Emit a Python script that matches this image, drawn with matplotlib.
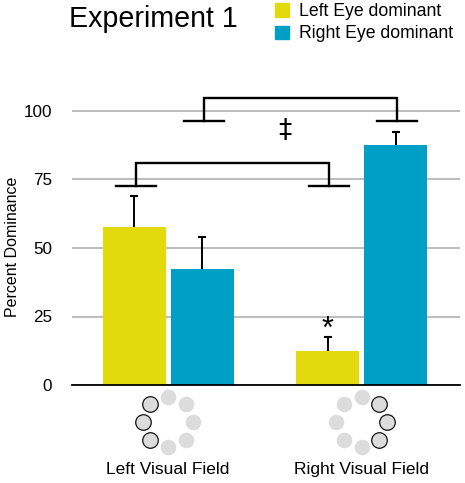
import numpy as np
import matplotlib
matplotlib.use("Agg")
import matplotlib.pyplot as plt
from matplotlib.patches import Patch

plt.rcParams['font.family'] = ['Liberation Sans', 'DejaVu Sans']

fields = ["Left Visual Field", "Right Visual Field"]
series = ["Left Eye dominant", "Right Eye dominant"]
left_eye = [57.5, 12.5]
right_eye = [42.5, 87.5]
left_err = [11.5, 5.0]
right_err = [11.5, 5.0]
y_ticks = [0, 25, 50, 75, 100]
YELLOW = "#e2da0c"
BLUE = "#00a0c6"

W, H = 465, 483
fig = plt.figure(figsize=(W / 100, H / 100), dpi=100)
ax_l, ax_r, ax_b, ax_t = 72, 460, 385, 84
ax = fig.add_axes([ax_l / W, 1 - ax_b / H, (ax_r - ax_l) / W, (ax_b - ax_t) / H])

x = np.arange(2)
px = 193.5
bw = 63 / px
off = 34 / px
ekw = dict(ecolor="black", elinewidth=1.4, capsize=2.9, capthick=1.5, zorder=3)
ax.bar(x - off, left_eye, bw, color=YELLOW, zorder=2, label=series[0])
ax.bar(x + off, right_eye, bw, color=BLUE, zorder=2, label=series[1])
for xs, vals, errs in [(x - off, left_eye, left_err), (x + off, right_eye, right_err)]:
    eb = ax.errorbar(xs, vals, yerr=[[0, 0], errs], fmt="none", **ekw)
    eb[1][0].set_visible(False)

ax.set_xlim((ax_l - 168) / px, (ax_r - 168) / px)
ax.set_ylim(0, (ax_b - ax_t) / 2.74)
ax.set_yticks(y_ticks)
ax.set_xticks(x, fields)
ax.tick_params(axis="y", length=0, labelsize=12.3, pad=14.4)
ax.tick_params(axis="x", length=0, labelsize=12.5, pad=55.5)
ax.set_ylabel("Percent Dominance", fontsize=11.5, labelpad=2.5, y=0.458)
ax.yaxis.grid(True, color="#ababab", lw=1.1, zorder=1)
ax.set_axisbelow(True)
for s in ["top", "left", "right"]:
    ax.spines[s].set_visible(False)
ax.spines["bottom"].set_linewidth(1.3)
ax.spines["bottom"].set_zorder(5)

# comparison brackets: (left x, right x, foot level, top level)
bracket_lw = 1.7
foot = 20 / px
shift = 1.5 / px
brackets = [(x[0] - off, x[1] - off, 72.8, 81.2), (x[0] + off, x[1] + off, 96.3, 104.6)]
for a, b, lo, hi in brackets:
    a += shift
    b += shift
    ax.plot([a, a, b, b], [lo, hi, hi, lo], color="black", lw=bracket_lw,
            solid_joinstyle="miter", zorder=4, clip_on=False)
    for c in (a, b):
        ax.plot([c - foot, c + foot], [lo, lo], color="black", lw=bracket_lw, zorder=4)

ax.text((285 - 168) / px, (385 - 131) / 2.74, "\u2021", ha="center", va="center",
        fontsize=19, family="DejaVu Sans", color="black")
ax.text(x[1] - off, 20.0, "*", ha="center", va="center", fontsize=22, color="black")

# stimulus rings: eight discs, three outlined on the attended side
ring_r = 25.3
ring_y = -37 / 2.74
highlight = {0: (135, 180, 225), 1: (45, 0, 315)}
for i in x:
    for a in np.arange(0, 360, 45):
        dx = np.cos(np.deg2rad(a)) * ring_r / px
        dy = np.sin(np.deg2rad(a)) * ring_r / 2.74
        on = a in highlight[i]
        ax.plot(i + dx, ring_y + dy, "o", ms=11.2,
                mfc="#dcdcdc", mec="#111111" if on else "none", mew=0.9,
                clip_on=False, zorder=4)

fig.text(69 / W, 1 - 27 / H, "Experiment 1", fontsize=20.6, color="black", ha="left", va="baseline")
fig.legend(handles=[Patch(color=YELLOW, label=series[0]), Patch(color=BLUE, label=series[1])],
           loc="upper left", bbox_to_anchor=(275 / W, 1 - 3 / H), frameon=False, fontsize=12.7,
           handlelength=0.8, handleheight=0.8, handletextpad=0.55, labelspacing=0.31,
           borderpad=0, borderaxespad=0)

fig.savefig("out.png", dpi=100)
